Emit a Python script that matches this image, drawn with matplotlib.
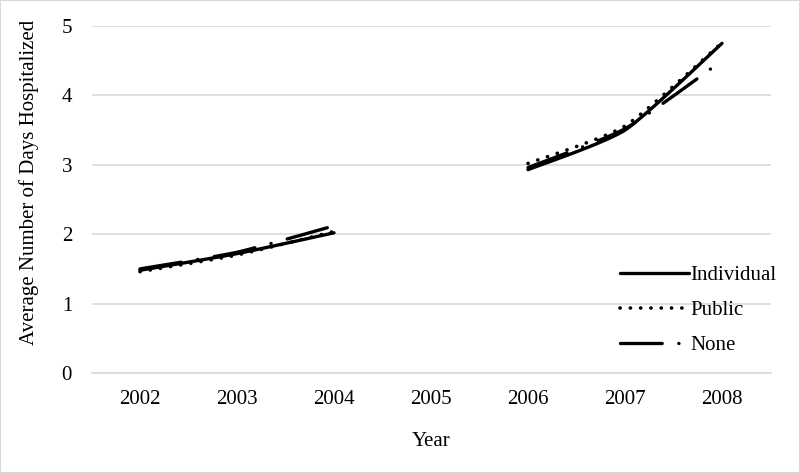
import numpy as np
import matplotlib
matplotlib.use("Agg")
import matplotlib.pyplot as plt
from matplotlib.patches import Rectangle

plt.rcParams['font.family'] = ['Liberation Serif', 'DejaVu Serif']

years = ['2002', '2003', '2004', '2005', '2006', '2007', '2008']
individual = [1.48, 1.72, 2.02, np.nan, 2.93, 3.50, 4.75]
public = [1.46, 1.70, 2.04, np.nan, 3.02, 3.56, 4.76]
none = [1.50, 1.74, 2.12, np.nan, 2.96, 3.52, 4.50]


# Excel-like smoothed line: cardinal spline through each unbroken run of points
def smooth(xs, ys, n=30, tension=0.6):
    out_x, out_y = [], []
    for i in range(len(xs) - 1):
        j0, j3 = max(i - 1, 0), min(i + 2, len(xs) - 1)
        t = np.linspace(0, 1, n)
        for arr, out in [(xs, out_x), (ys, out_y)]:
            a, b, c, d = arr[j0], arr[i], arr[i + 1], arr[j3]
            m1 = tension * (c - a) / 2
            m2 = tension * (d - b) / 2
            h = (2*t**3 - 3*t**2 + 1) * b + (t**3 - 2*t**2 + t) * m1 \
                + (-2*t**3 + 3*t**2) * c + (t**3 - t**2) * m2
            out.extend(h)
    return out_x, out_y


def draw(ax, vals, **kw):
    y = np.array(vals, dtype=float)
    runs, cur = [], []
    for i in range(len(y)):
        if not np.isnan(y[i]):
            cur.append(i)
        elif cur:
            runs.append(cur)
            cur = []
    if cur:
        runs.append(cur)
    for r in runs:
        sx, sy = smooth([float(i) for i in r], [y[i] for i in r])
        ax.plot(sx, sy, **kw)
        kw.pop('label', None)


fig = plt.figure(figsize=(8, 4.73), dpi=100)
ax = fig.add_axes([91.5/800, 100/473, 679/800, 347/473])

draw(ax, individual, color='black', lw=2.4, solid_capstyle='round', label='Individual')
draw(ax, public, color='black', lw=2.6, dash_capstyle='round',
     linestyle=(0, (0.05, 2.8)), label='Public')
draw(ax, none, color='black', lw=2.4, dash_capstyle='round',
     linestyle=(0, (12.5, 5, 0.05, 5)), label='None')

ax.set_xlim(-0.5, 6.5)
ax.set_ylim(0, 5)
ax.set_xticks(range(len(years)))
ax.set_xticklabels(years)
ax.set_yticks(range(6))
ax.yaxis.grid(True, color='#d9d9d9', lw=1.2)
ax.set_axisbelow(True)
for s in ['top', 'right', 'left']:
    ax.spines[s].set_visible(False)
ax.spines['bottom'].set_color('#d9d9d9')
ax.spines['bottom'].set_linewidth(1.2)
ax.tick_params(length=0, labelsize=15, pad=12)
ax.tick_params(axis='y', pad=14)
ax.set_xlabel('Year', fontsize=15, labelpad=17)
ax.set_ylabel('Average Number of Days Hospitalized', fontsize=15)
ax.yaxis.set_label_coords(-0.078, 0.55)

leg = ax.legend(loc='lower right', bbox_to_anchor=(1.037, -0.003), frameon=False,
                fontsize=15, handlelength=3.3, handletextpad=0.1, labelspacing=0.75)

fig.add_artist(Rectangle((0, 0), 1, 1, transform=fig.transFigure, fill=False,
                         edgecolor='#d9d9d9', lw=1.5))

fig.savefig('out.png', dpi=100)
